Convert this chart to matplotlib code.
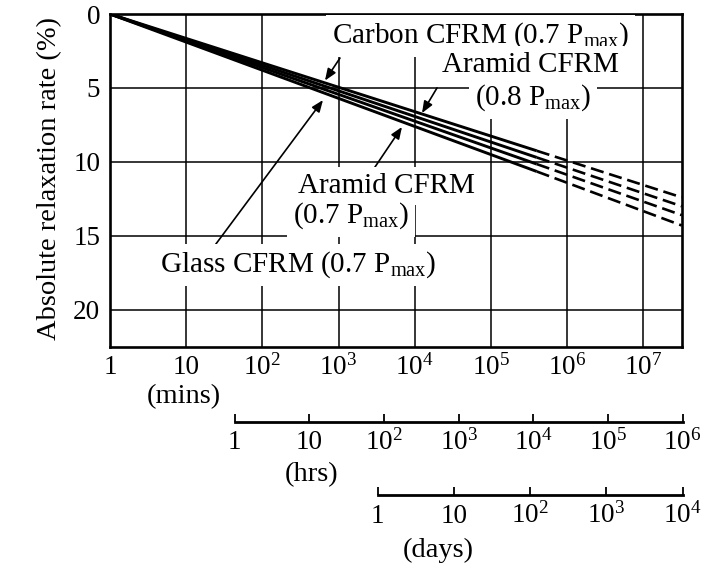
import matplotlib.pyplot as plt
from matplotlib.ticker import NullLocator

plt.rcParams['font.family'] = 'Liberation Serif'
plt.rcParams['mathtext.fontset'] = 'custom'
plt.rcParams['mathtext.rm'] = 'Liberation Serif'
plt.rcParams['mathtext.it'] = 'Liberation Serif:italic'

# elapsed time (mins): measured range and extrapolated range
t_measured = [1, 4e5]
t_projected = [4e5, 3.2e7]

# absolute relaxation rate (%) at t = 1, 4e5 and 3.2e7 mins
carbon_07 = [0, 9.25, 12.4]
aramid_07 = [0, 9.7, 13.0]
aramid_08 = [0, 10.15, 13.6]
glass_07 = [0, 10.65, 14.3]

min_ticks = [1, 10, 1e2, 1e3, 1e4, 1e5, 1e6, 1e7]
min_labels = ['1', '10', r'$10^2$', r'$10^3$', r'$10^4$', r'$10^5$', r'$10^6$', r'$10^7$']
hr_ticks = [1, 10, 1e2, 1e3, 1e4, 1e5, 1e6]
hr_labels = ['1', '10', r'$10^2$', r'$10^3$', r'$10^4$', r'$10^5$', r'$10^6$']
day_ticks = [1, 10, 1e2, 1e3, 1e4]
day_labels = ['1', '10', r'$10^2$', r'$10^3$', r'$10^4$']
rate_ticks = [0, 5, 10, 15, 20]

W, H = 705, 572


def fpos(x, y):
    # pixel position measured from the top-left corner -> figure fraction
    return x / W, 1 - y / H


fig = plt.figure(figsize=(W / 100, H / 100), dpi=100)
ax = fig.add_axes([110 / W, 1 - 346.7 / H, 571.7 / W, 332.7 / H])

for series in (carbon_07, aramid_07, aramid_08, glass_07):
    ax.plot(t_measured, series[:2], color='black', lw=2.1, solid_capstyle='butt')
    ax.plot(t_projected, series[1:], color='black', lw=1.9, linestyle=(0, (5, 2.2)))

ax.set_xscale('log')
ax.set_xlim(1, 3.2e7)
ax.set_ylim(22.5, 0)
ax.set_xticks(min_ticks, min_labels)
ax.xaxis.set_minor_locator(NullLocator())
ax.set_yticks(rate_ticks)
ax.grid(True, color='black', lw=1.1)
ax.tick_params(axis='both', length=0, labelsize=19.5)
ax.tick_params(axis='x', pad=20)
ax.tick_params(axis='y', pad=7)
plt.setp(ax.get_xticklabels(), va='baseline')
for sp in ax.spines.values():
    sp.set_linewidth(1.9)

# secondary time scales below the plot
for rect, ticks, labels, lim in (
        ([234.8 / W, 1 - 421.7 / H, 447.8 / W, 0.001], hr_ticks, hr_labels, (1, 1e6)),
        ([377.7 / W, 1 - 495 / H, 304.9 / W, 0.001], day_ticks, day_labels, (1, 1e4))):
    sub = fig.add_axes(rect)
    sub.set_facecolor('none')
    sub.set_xscale('log')
    sub.set_xlim(*lim)
    sub.set_xticks(ticks, labels)
    sub.xaxis.set_minor_locator(NullLocator())
    sub.set_yticks([])
    for side in ('left', 'right', 'top'):
        sub.spines[side].set_visible(False)
    sub.spines['bottom'].set_linewidth(2.0)
    sub.tick_params(axis='x', direction='in', length=6, width=1.3,
                    labelsize=19.5, pad=20)
    plt.setp(sub.get_xticklabels(), va='baseline')

fig.text(*fpos(50, 178), 'Absolute relaxation rate (%)', rotation=90,
         ha='center', va='center', fontsize=20.5)
fig.text(*fpos(184, 397), '(mins)', ha='center', va='center', fontsize=20.5)
fig.text(*fpos(312, 475), '(hrs)', ha='center', va='center', fontsize=20.5)
fig.text(*fpos(438, 550), '(days)', ha='center', va='center', fontsize=20.5)

box = dict(facecolor='white', edgecolor='none', boxstyle='square,pad=0.2')
pmax = r'P$_{\rm max}$'
labels = [
    (331.7, 43, 'Carbon CFRM (0.7 ' + pmax + ')'),
    (441.7, 71.7, 'Aramid CFRM'),
    (475, 105, '(0.8 ' + pmax + ')'),
    (298.3, 193, 'Aramid CFRM'),
    (293, 223, '(0.7 ' + pmax + ')'),
    (160, 271.7, 'Glass CFRM (0.7 ' + pmax + ')'),
]
for x, y, s in labels:
    fig.text(*fpos(x, y), s, ha='left', va='baseline', fontsize=21, bbox=box)

# leader arrows from the labels to the curves
arrow = dict(arrowstyle='-|>,head_length=0.5,head_width=0.2', color='black',
             lw=1.2, shrinkA=0, shrinkB=0, mutation_scale=14)
leaders = [
    ((1045, 2.98), (664, 4.5)),
    ((19630, 5.0), (12470, 6.7)),
    ((2833, 10.55), (6808, 7.64)),
    ((20.5, 16.1), (625, 5.82)),
]
for start, tip in leaders:
    ax.annotate('', xy=tip, xytext=start, arrowprops=arrow)

fig.savefig('out.png', dpi=100)
